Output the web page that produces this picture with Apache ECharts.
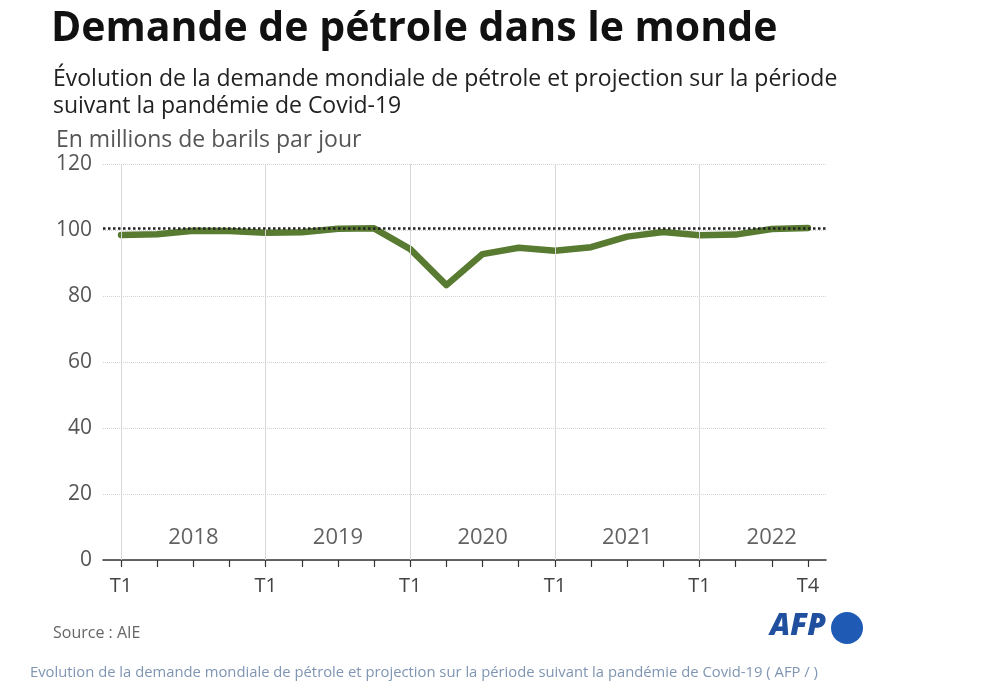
<!DOCTYPE html>
<html>
<head>
<meta charset="utf-8">
<script src="https://cdn.jsdelivr.net/npm/echarts@6/dist/echarts.min.js"></script>
<style>
html,body{margin:0;padding:0;background:#fff;}
#chart{width:1000px;height:700px;}
</style>
</head>
<body>
<div id="chart"></div>
<script>
// Quarterly categories 2018 T1 .. 2022 T4
var years = ['2018', '2019', '2020', '2021', '2022'];
var quarters = ['T1', 'T2', 'T3', 'T4'];
var categories = [];
years.forEach(function (y) { quarters.forEach(function (q) { categories.push(y + ' ' + q); }); });

// World oil demand, millions of barrels per day
var demand = [98.5, 98.7, 99.8, 99.7, 99.2, 99.3, 100.4, 100.5,
              94.2, 83.3, 92.7, 94.6, 93.7, 94.8, 98.0, 99.4,
              98.4, 98.6, 100.3, 100.6];

// Reference level (dotted line)
var referenceLevel = 100.6;

// Y axis ticks
var yMin = 0, yMax = 120, yStep = 20;

// Year label positions (quarter index units) and height
var yearLabelPos = [2, 6, 10, 14, 18];
var yearLabelY = 6.8;

var T1cats = categories.filter(function (c, i) { return i % 4 === 0; });

var chart = echarts.init(document.getElementById('chart'));
var font = '"Open Sans", "Noto Sans", sans-serif';

chart.setOption({
  backgroundColor: '#ffffff',
  animation: false,
  textStyle: { fontFamily: font },
  title: [
    { text: 'Demande de pétrole dans le monde', left: 46, top: 4,
      textStyle: { fontFamily: font, fontWeight: 'bold', fontSize: 41, color: '#111' } },
    { text: 'Évolution de la demande mondiale de pétrole et projection sur la période\nsuivant la pandémie de Covid-19',
      left: 48, top: 61,
      textStyle: { fontFamily: font, fontWeight: 'normal', fontSize: 23, lineHeight: 27, color: '#222' } },
    { text: 'En millions de barils par jour', left: 51, top: 124,
      textStyle: { fontFamily: font, fontWeight: 'normal', fontSize: 23, color: '#555' } },
    { text: 'Source : AIE', left: 48, top: 620,
      textStyle: { fontFamily: font, fontWeight: 'normal', fontSize: 16, color: '#666' } },
    { text: 'Evolution de la demande mondiale de pétrole et projection sur la période suivant la pandémie de Covid-19 ( AFP / )',
      left: 25, top: 660,
      textStyle: { fontFamily: font, fontWeight: 'normal', fontSize: 14.8, color: '#7f95b3' } }
  ],
  graphic: [
    { type: 'text', left: 770, top: 611,
      style: { text: 'AFP', fontFamily: font, fontWeight: 900, fontStyle: 'italic', fontSize: 30, fill: '#1f4f9e' } },
    { type: 'circle', shape: { cx: 847, cy: 628, r: 16 }, style: { fill: '#1f5bb5' } }
  ],
  grid: { left: 103, right: 174, top: 164, bottom: 140, containLabel: false },
  xAxis: [
    {
      type: 'category', data: categories, boundaryGap: true,
      axisLine: { show: true, lineStyle: { color: '#333', width: 1.5 } },
      axisTick: { show: true, alignWithLabel: true, interval: 0, length: 7, lineStyle: { color: '#333', width: 1.2 } },
      axisLabel: {
        interval: 0, margin: 16, color: '#444', fontSize: 20, fontFamily: font,
        formatter: function (v, i) { return i % 4 === 0 ? 'T1' : (i === categories.length - 1 ? 'T4' : ''); }
      },
      splitLine: { show: false }
    },
    { type: 'value', min: -0.5, max: 19.5, show: false }
  ],
  yAxis: {
    type: 'value', min: yMin, max: yMax, interval: yStep,
    axisLine: { show: false }, axisTick: { show: false },
    axisLabel: { color: '#555', fontSize: 21, margin: 11, fontFamily: font },
    splitLine: { show: true, lineStyle: { color: '#d4d4d4', type: 'dotted', width: 1 } }
  },
  series: [
    {
      type: 'line', data: [], xAxisIndex: 0, z: 1, silent: true,
      markLine: {
        silent: true, symbol: 'none', label: { show: false },
        lineStyle: { color: '#d8d8d8', type: 'solid', width: 1 },
        data: T1cats.map(function (c) { return { xAxis: c }; })
      }
    },
    {
      type: 'line', data: demand, xAxisIndex: 0, z: 3,
      symbol: 'none', smooth: false,
      lineStyle: { color: '#587a31', width: 6.5, cap: 'round', join: 'round' },
      markLine: {
        silent: true, symbol: 'none', label: { show: false },
        lineStyle: { color: '#222', type: 'dotted', width: 2.5 },
        data: [{ yAxis: referenceLevel }]
      }
    },
    {
      type: 'scatter', xAxisIndex: 1, symbolSize: 0, silent: true,
      data: yearLabelPos.map(function (x, i) { return [x, yearLabelY, years[i]]; }),
      label: { show: true, position: 'inside', formatter: function (p) { return p.data[2]; },
               color: '#3a3a3a', fontSize: 22, fontFamily: font }
    }
  ]
});
</script>
</body>
</html>
